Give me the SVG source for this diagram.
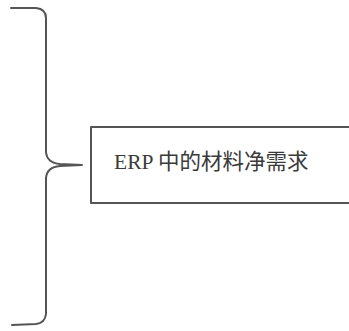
<svg xmlns="http://www.w3.org/2000/svg" width="349" height="331" viewBox="0 0 349 331">
<style>
.ln{fill:none;stroke:#555;stroke-width:2;stroke-linecap:round;stroke-linejoin:round}
.lbl{font-family:"Liberation Serif","Noto Sans CJK SC",serif;font-size:21.5px;fill:#3a3a3a}
</style>
<rect width="349" height="331" fill="#fff"/>
<g id="connectors">
<path class="ln" d="M 11 8 L 36 8 Q 46 9 46 18 L 46 152 Q 47 163 60 164 L 82 165 L 60 166 Q 47 167 46 178 L 46 314 Q 45 323 36 324 L 12 325"/>
</g>
<g id="node-erp">
<rect class="ln" x="91" y="127" width="262" height="76"/>
<text class="lbl" x="114" y="169">ERP 中的材料净需求</text>
</g>
</svg>
